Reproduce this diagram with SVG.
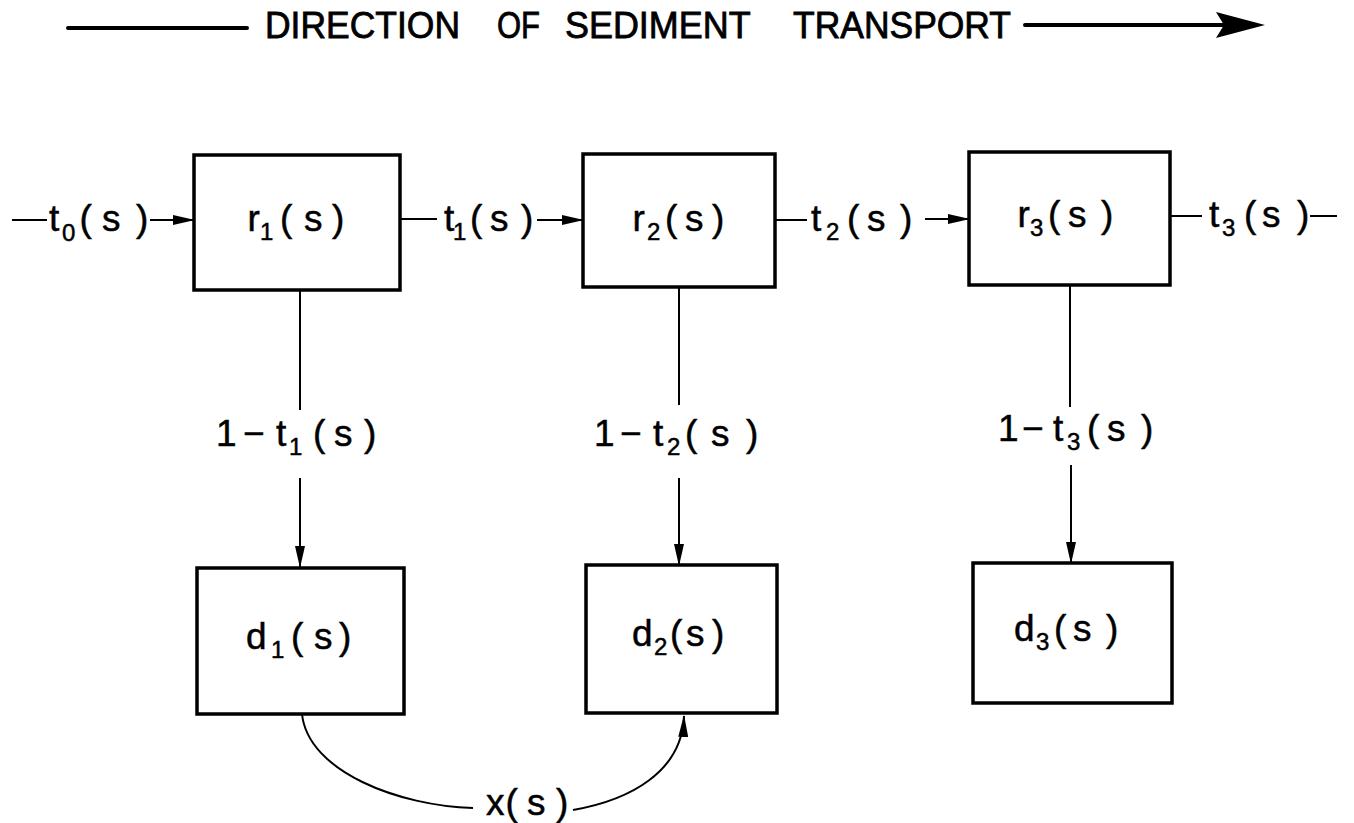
<svg xmlns="http://www.w3.org/2000/svg" width="1354" height="823" viewBox="0 0 1354 823">
  <style>
    .box { fill: #fff; stroke: #000; stroke-width: 3.5; }
    .ln { fill: none; stroke: #000; stroke-width: 2; }
    .heavy { fill: none; stroke: #000; stroke-width: 4; stroke-linecap: round; }
    .lbl { font-family: "Liberation Sans", Arial, sans-serif; font-size: 37px; fill: #000; stroke: #000; stroke-width: 0.5; }
    .sub { font-size: 24px; }
    .title { font-family: "Liberation Sans", Arial, sans-serif; font-size: 36px; fill: #000; stroke: #000; stroke-width: 0.8; }
  </style>
  <defs>
    <marker id="arrowH" markerUnits="userSpaceOnUse" markerWidth="22" markerHeight="10" refX="21" refY="5" orient="auto">
      <path d="M0,0 L22,5 L0,10 Z" fill="#000"/>
    </marker>
  </defs>

  <!-- heading with direction arrow -->
  <g id="title">
    <line class="heavy" x1="68" y1="28" x2="247" y2="28"/>
    <text class="title" y="38">
      <tspan x="265" textLength="195" lengthAdjust="spacingAndGlyphs">DIRECTION</tspan>
      <tspan x="497" textLength="43" lengthAdjust="spacingAndGlyphs">OF</tspan>
      <tspan x="565" textLength="185" lengthAdjust="spacingAndGlyphs">SEDIMENT</tspan>
      <tspan x="793" textLength="218" lengthAdjust="spacingAndGlyphs">TRANSPORT</tspan>
    </text>
    <line class="heavy" x1="1025" y1="25" x2="1225" y2="25"/>
    <polygon points="1216,12 1265,25 1216,38 1224,25" fill="#000"/>
  </g>

  <!-- reach nodes -->
  <g id="r1">
    <rect class="box" x="194" y="155" width="206" height="135"/>
    <text class="lbl"><tspan x="247.5" y="231">r</tspan><tspan class="sub" x="260" y="240">1</tspan><tspan x="280" y="231">(</tspan><tspan x="304" y="231">s</tspan><tspan x="332" y="231">)</tspan></text>
  </g>
  <g id="r2">
    <rect class="box" x="583" y="154" width="192" height="133"/>
    <text class="lbl"><tspan x="632.5" y="231">r</tspan><tspan class="sub" x="647" y="240">2</tspan><tspan x="665" y="231">(</tspan><tspan x="685" y="231">s</tspan><tspan x="712" y="231">)</tspan></text>
  </g>
  <g id="r3">
    <rect class="box" x="969" y="152" width="201" height="133"/>
    <text class="lbl"><tspan x="1017.5" y="227">r</tspan><tspan class="sub" x="1030" y="236">3</tspan><tspan x="1048" y="227">(</tspan><tspan x="1068" y="227">s</tspan><tspan x="1101" y="227">)</tspan></text>
  </g>

  <!-- deposit nodes -->
  <g id="d1">
    <rect class="box" x="197" y="568" width="207" height="146"/>
    <text class="lbl"><tspan x="246" y="649">d</tspan><tspan class="sub" x="271" y="658">1</tspan><tspan x="291" y="649">(</tspan><tspan x="314" y="649">s</tspan><tspan x="339" y="649">)</tspan></text>
  </g>
  <g id="d2">
    <rect class="box" x="586" y="565" width="191" height="148"/>
    <text class="lbl"><tspan x="632" y="646">d</tspan><tspan class="sub" x="654" y="655">2</tspan><tspan x="670" y="646">(</tspan><tspan x="686" y="646">s</tspan><tspan x="712" y="646">)</tspan></text>
  </g>
  <g id="d3">
    <rect class="box" x="973" y="563" width="199" height="140"/>
    <text class="lbl"><tspan x="1014" y="641">d</tspan><tspan class="sub" x="1036" y="650">3</tspan><tspan x="1054" y="641">(</tspan><tspan x="1073" y="641">s</tspan><tspan x="1106" y="641">)</tspan></text>
  </g>

  <!-- transfer connectors and their labels -->
  <g id="connectors">
    <!-- inflow to r1 -->
    <line class="ln" x1="12" y1="220" x2="47" y2="220"/>
    <text class="lbl"><tspan x="49" y="231">t</tspan><tspan class="sub" x="62" y="241">0</tspan><tspan x="79.5" y="231">(</tspan><tspan x="102" y="231">s</tspan><tspan x="136" y="231">)</tspan></text>
    <line class="ln" x1="150" y1="220" x2="194" y2="220" marker-end="url(#arrowH)"/>

    <!-- r1 to r2 -->
    <line class="ln" x1="400" y1="219" x2="437" y2="219"/>
    <text class="lbl"><tspan x="444" y="231">t</tspan><tspan class="sub" x="453" y="240">1</tspan><tspan x="470" y="231">(</tspan><tspan x="490" y="231">s</tspan><tspan x="521" y="231">)</tspan></text>
    <line class="ln" x1="537" y1="220" x2="583" y2="220" marker-end="url(#arrowH)"/>

    <!-- r2 to r3 -->
    <line class="ln" x1="775" y1="220" x2="807" y2="220"/>
    <text class="lbl"><tspan x="811" y="231">t</tspan><tspan class="sub" x="826" y="240">2</tspan><tspan x="847" y="231">(</tspan><tspan x="867" y="231">s</tspan><tspan x="900" y="231">)</tspan></text>
    <line class="ln" x1="925" y1="219" x2="969" y2="219" marker-end="url(#arrowH)"/>

    <!-- outflow from r3 -->
    <line class="ln" x1="1170" y1="216" x2="1202" y2="216"/>
    <text class="lbl"><tspan x="1209" y="227">t</tspan><tspan class="sub" x="1222" y="236">3</tspan><tspan x="1244" y="227">(</tspan><tspan x="1262" y="227">s</tspan><tspan x="1297" y="227">)</tspan></text>
    <line class="ln" x1="1310" y1="216" x2="1337" y2="216"/>

    <!-- r1 to d1 -->
    <line class="ln" x1="300" y1="290" x2="300" y2="410"/>
    <text class="lbl"><tspan x="216" y="446">1</tspan><tspan x="243" y="446">−</tspan><tspan x="276" y="446">t</tspan><tspan class="sub" x="289" y="455">1</tspan><tspan x="313" y="446">(</tspan><tspan x="334" y="446">s</tspan><tspan x="364" y="446">)</tspan></text>
    <line class="ln" x1="300" y1="478" x2="300" y2="567" marker-end="url(#arrowH)"/>

    <!-- r2 to d2 -->
    <line class="ln" x1="679" y1="287" x2="679" y2="405"/>
    <text class="lbl"><tspan x="594" y="446">1</tspan><tspan x="620" y="446">−</tspan><tspan x="653" y="446">t</tspan><tspan class="sub" x="667" y="455">2</tspan><tspan x="685" y="446">(</tspan><tspan x="711" y="446">s</tspan><tspan x="746" y="446">)</tspan></text>
    <line class="ln" x1="679" y1="478" x2="679" y2="565" marker-end="url(#arrowH)"/>

    <!-- r3 to d3 -->
    <line class="ln" x1="1070" y1="285" x2="1070" y2="407"/>
    <text class="lbl"><tspan x="998" y="441">1</tspan><tspan x="1022" y="441">−</tspan><tspan x="1053" y="441">t</tspan><tspan class="sub" x="1067" y="450">3</tspan><tspan x="1087" y="441">(</tspan><tspan x="1107" y="441">s</tspan><tspan x="1141" y="441">)</tspan></text>
    <line class="ln" x1="1071" y1="465" x2="1071" y2="563" marker-end="url(#arrowH)"/>

    <!-- exchange d1 to d2 -->
    <path class="ln" d="M302,714 C308,772 400,806 473,808"/>
    <text class="lbl"><tspan x="486" y="815">x</tspan><tspan x="505.5" y="815">(</tspan><tspan x="527" y="815">s</tspan><tspan x="556" y="815">)</tspan></text>
    <path class="ln" d="M573,810 C630,800 682,772 684,716" marker-end="url(#arrowH)"/>
  </g>
</svg>
